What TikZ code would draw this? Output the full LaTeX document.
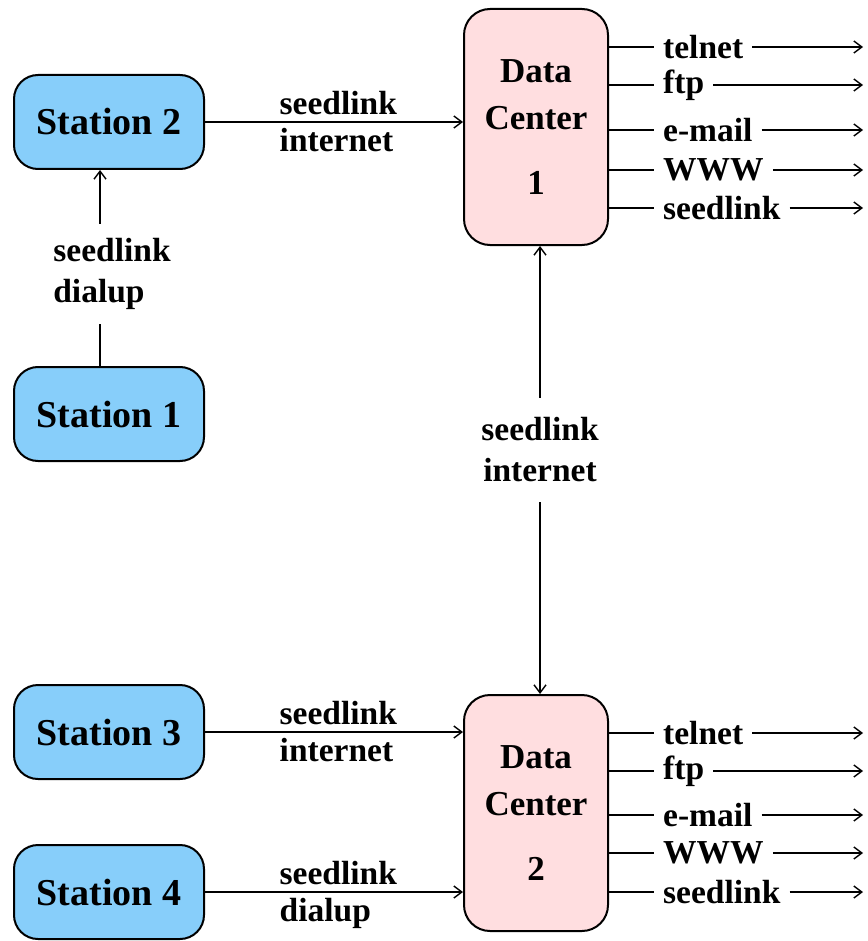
\documentclass[tikz,border=0pt]{standalone}
\usepackage{fontspec}
\setmainfont{Liberation Serif}
\usetikzlibrary{arrows.meta}
\tikzset{
  station/.style={draw=black, line width=2pt, fill=stafill, rounded corners=24pt,
    minimum width=190pt, minimum height=94pt, inner sep=0pt,
    font=\fontsize{38}{40}\selectfont\bfseries},
  center/.style={draw=black, line width=2pt, fill=dcfill, rounded corners=26pt,
    minimum width=144pt, minimum height=236pt, inner sep=0pt, align=center,
    font=\fontsize{35}{47}\selectfont\bfseries},
  lbl/.style={font=\fontsize{33.5}{41}\selectfont\bfseries, inner sep=0pt},
  ablbl/.style={lbl, pos=0, anchor=south west, xshift=74pt, yshift=6pt},
  belbl/.style={lbl, pos=0, anchor=north west, xshift=74pt, yshift=-6pt},
  conn/.style={line width=1.4pt},
  arr/.style={conn, -{Straight Barb[length=8pt,width=12pt]}},
  barr/.style={conn, {Straight Barb[length=8pt,width=12pt]}-{Straight Barb[length=8pt,width=12pt]}},
}
\definecolor{stafill}{RGB}{135,206,250}
\definecolor{dcfill}{RGB}{255,222,224}
\begin{document}
\begin{tikzpicture}[x=1pt,y=-1pt]
\useasboundingbox (0,0) rectangle (867,941);
% stations
\node[station] (s2) at (109,122) {Station 2};
\node[station] (s1) at (109,414) {Station 1};
\node[station] (s3) at (109,732) {Station 3};
\node[station] (s4) at (109,892) {Station 4};
% data centers
\node[center] (dc1) at (536,127) {Data\\Center\\[18pt]1};
\node[center] (dc2) at (536,813) {Data\\Center\\[18pt]2};
% station links
\draw[arr] (s2.east) -- node[ablbl] {seedlink} node[belbl] {internet} (s2.east -| dc1.west);
\draw[arr] (s3.east) -- node[ablbl] {seedlink} node[belbl] {internet} (s3.east -| dc2.west);
\draw[arr] (s4.east) -- node[ablbl] {seedlink} node[belbl] {dialup} (s4.east -| dc2.west);
\draw[arr] ([xshift=-9pt]s1.north) -- node[lbl, fill=white, align=left, inner sep=14pt, xshift=12pt, pos=0.47] {seedlink\\dialup} ([xshift=-9pt]s2.south);
\draw[barr] ([xshift=4pt]dc1.south) -- node[lbl, fill=white, align=center, inner sep=20pt, pos=0.455] {seedlink\\internet} ([xshift=4pt]dc2.north);
% outputs
\foreach \dc/\ys/\p in {dc1/{47,85,130,170,208}/a, dc2/{733,771,815,853,892}/b}{
  \foreach \t [count=\i] in {telnet,ftp,e-mail,WWW,seedlink}{
    \pgfmathsetmacro{\yy}{{\ys}[\i-1]}
    \node[lbl, anchor=west, inner xsep=9pt] (o\p\i) at (654,\yy) {\t};
    \coordinate (e\p\i) at (863,\yy);
    \draw[conn] (\dc.east |- o\p\i) -- (o\p\i.west);
    \draw[arr] (o\p\i.east) -- (e\p\i);
  }
}
\end{tikzpicture}
\end{document}
